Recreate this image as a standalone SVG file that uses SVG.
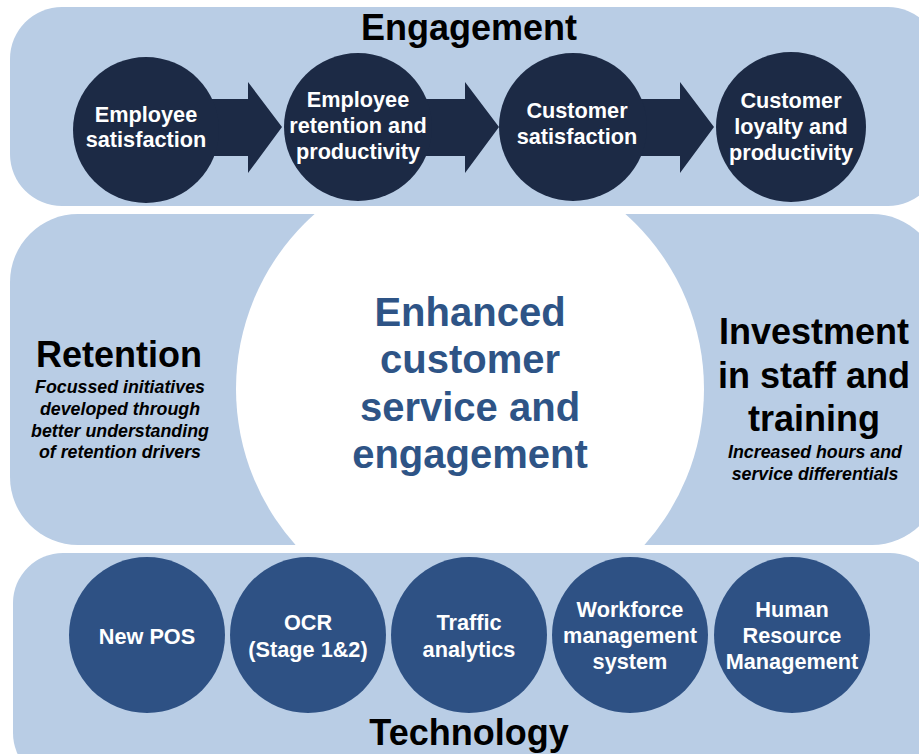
<svg xmlns="http://www.w3.org/2000/svg" width="919" height="754" viewBox="0 0 919 754">
  <style>
    .band { fill: #B9CDE5; }
    .navy { fill: #1C2A45; }
    .blue { fill: #2E5184; }
    text { font-family: "Liberation Sans", Arial, sans-serif; font-weight: bold; text-anchor: middle; }
    .title { font-size: 36px; fill: #000000; }
    .node { font-size: 21.7px; fill: #FFFFFF; }
    .note { font-size: 17.8px; font-style: italic; fill: #000000; }
    .core { font-size: 40px; fill: #2E5486; }
  </style>
  <defs>
    <clipPath id="middle-clip">
      <rect x="10" y="214" width="930" height="331" rx="68" ry="68"/>
    </clipPath>
  </defs>

  <!-- background bands -->
  <g id="bands">
    <rect class="band" x="10" y="7" width="930" height="199" rx="52" ry="52"/>
    <rect class="band" x="10" y="214" width="930" height="331" rx="68" ry="68"/>
    <rect class="band" x="13" y="553" width="927" height="230" rx="50" ry="50"/>
    <circle cx="470" cy="389" r="234" fill="#FFFFFF" clip-path="url(#middle-clip)"/>
  </g>

  <!-- flow arrows between engagement stages -->
  <g id="connectors" class="navy">
    <polygon points="200,99 248,99 248,82 282,127 248,173 248,156 200,156"/>
    <polygon points="415,99 465,99 465,82 499,127 465,173 465,156 415,156"/>
    <polygon points="630,99 680,99 680,82 714,127 680,173 680,156 630,156"/>
  </g>

  <!-- Engagement -->
  <g id="engagement">
    <text class="title" x="469" y="40">Engagement</text>
  </g>
  <g id="employee-satisfaction">
    <circle class="navy" cx="146" cy="130" r="73"/>
    <text class="node" x="146" y="122">Employee</text>
    <text class="node" x="146" y="147">satisfaction</text>
  </g>
  <g id="employee-retention">
    <circle class="navy" cx="358" cy="127" r="74"/>
    <text class="node" x="358" y="107">Employee</text>
    <text class="node" x="358" y="133">retention and</text>
    <text class="node" x="358" y="159">productivity</text>
  </g>
  <g id="customer-satisfaction">
    <circle class="navy" cx="573" cy="127" r="74"/>
    <text class="node" x="577" y="118">Customer</text>
    <text class="node" x="577" y="144">satisfaction</text>
  </g>
  <g id="customer-loyalty">
    <circle class="navy" cx="791" cy="127" r="75"/>
    <text class="node" x="791" y="108">Customer</text>
    <text class="node" x="791" y="134">loyalty and</text>
    <text class="node" x="791" y="160">productivity</text>
  </g>

  <!-- Middle section -->
  <g id="retention">
    <text class="title" x="119" y="367">Retention</text>
    <text class="note" x="120" y="393">Focussed initiatives</text>
    <text class="note" x="120" y="415">developed through</text>
    <text class="note" x="120" y="437">better understanding</text>
    <text class="note" x="120" y="458">of retention drivers</text>
  </g>
  <g id="core">
    <text class="core" x="470" y="326">Enhanced</text>
    <text class="core" x="470" y="373">customer</text>
    <text class="core" x="470" y="421">service and</text>
    <text class="core" x="470" y="468">engagement</text>
  </g>
  <g id="investment">
    <text class="title" x="814" y="344">Investment</text>
    <text class="title" x="814" y="388">in staff and</text>
    <text class="title" x="814" y="431">training</text>
    <text class="note" x="815" y="458">Increased hours and</text>
    <text class="note" x="815" y="480">service differentials</text>
  </g>

  <!-- Technology -->
  <g id="new-pos">
    <circle class="blue" cx="147" cy="635" r="78"/>
    <text class="node" x="147" y="644">New POS</text>
  </g>
  <g id="ocr">
    <circle class="blue" cx="308" cy="635" r="78"/>
    <text class="node" x="308" y="630">OCR</text>
    <text class="node" x="308" y="657">(Stage 1&amp;2)</text>
  </g>
  <g id="traffic-analytics">
    <circle class="blue" cx="469" cy="635" r="78"/>
    <text class="node" x="469" y="630">Traffic</text>
    <text class="node" x="469" y="657">analytics</text>
  </g>
  <g id="workforce-management">
    <circle class="blue" cx="630" cy="635" r="78"/>
    <text class="node" x="630" y="617">Workforce</text>
    <text class="node" x="630" y="643">management</text>
    <text class="node" x="630" y="669">system</text>
  </g>
  <g id="human-resource">
    <circle class="blue" cx="792" cy="635" r="78"/>
    <text class="node" x="792" y="617">Human</text>
    <text class="node" x="792" y="643">Resource</text>
    <text class="node" x="792" y="669">Management</text>
  </g>
  <g id="technology">
    <text class="title" x="469" y="745">Technology</text>
  </g>
</svg>
